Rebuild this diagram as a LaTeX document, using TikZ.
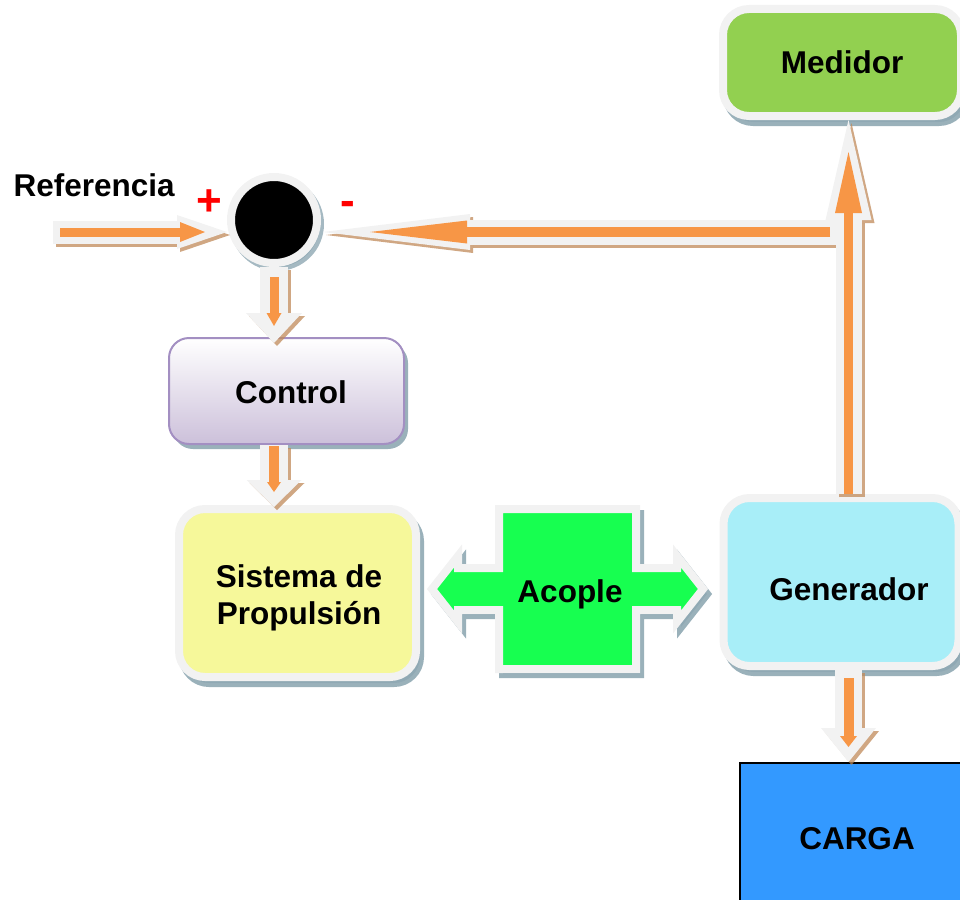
\documentclass[tikz,border=0pt]{standalone}
\usepackage{fontspec}
\setmainfont{Liberation Sans}
\usetikzlibrary{arrows.meta,shadows,calc}
\definecolor{bordc}{HTML}{F2F2F2}
\definecolor{shadbox}{HTML}{8FA8B3}
\definecolor{shadarr}{HTML}{C08A5A}
\definecolor{orangec}{HTML}{F79646}
\definecolor{medc}{HTML}{92D050}
\definecolor{ctrlb}{HTML}{A38FC2}
\definecolor{ctrlf}{HTML}{CCC0DA}
\definecolor{sysc}{HTML}{F6F89A}
\definecolor{acoc}{HTML}{17FF50}
\definecolor{genc}{HTML}{A8EEF8}
\definecolor{cargac}{HTML}{3399FF}
\newcommand\lblfont{\fontsize{31.5}{37}\selectfont\bfseries}
\tikzset{
  every node/.style={font=\lblfont, text=black},
  wbox/.style={rectangle, rounded corners=26pt, draw=bordc, line width=8pt, inner sep=0pt},
  bshadow/.style={drop shadow={shadow xshift=4pt, shadow yshift=-6pt, fill=shadbox, draw=shadbox, line width=8pt, opacity=0.9}},
  fatw/.style n args={3}{draw=bordc, line width=#1, -{Triangle[length=#2, width=#3, line width=0pt]}},
  fato/.style n args={3}{draw=orangec, line width=#1, -{Triangle[length=#2, width=#3, line width=0pt]}},
  fats/.style n args={3}{draw=shadarr, opacity=0.75, line width=#1, -{Triangle[length=#2, width=#3, line width=0pt]}, transform canvas={shift={(3pt,-3pt)}}},
  signlbl/.style={text=red, font=\fontsize{44}{46}\selectfont\bfseries, inner sep=0pt},
}
\begin{document}
\begin{tikzpicture}[x=1pt,y=-1pt]
\useasboundingbox (0,0) rectangle (960,899);
\clip (0,0) rectangle (960,899);

% boxes
\node[wbox, bshadow, fill=medc, minimum width=238pt, minimum height=107pt] (med) at (842,62.5) {Medidor};
\node[rectangle, rounded corners=20pt, draw=ctrlb, line width=2pt, top color=white, bottom color=ctrlf,
      drop shadow={shadow xshift=4pt, shadow yshift=-5pt, fill=shadbox, opacity=0.9},
      minimum width=235pt, minimum height=106pt] (ctrl) at (286.5,391) {};
\node (ctrltxt) at (291,392.5) {Control};
\node[wbox, bshadow, fill=sysc, minimum width=237pt, minimum height=168pt] (sys) at (297.5,593) {};
\node[align=center] (systxt) at (299,598) {Sistema de\\Propulsión};
\node[wbox, bshadow, fill=genc, minimum width=235pt, minimum height=168pt] (gen) at (841,582) {};
\node (gentxt) at (849,589.5) {Generador};
\node[rectangle, draw=black, line width=2pt, fill=cargac, minimum width=234pt, minimum height=150pt] (carga) at (857,838) {};
\node (cargatxt) at (857,839) {CARGA};

% acople
\def\acoplepath{(432,589) -- (458,556) -- (458,568) -- (499,568) -- (499,509) -- (636,509) -- (636,568) -- (677,568) -- (677,556) -- (703,589) -- (677,622) -- (677,610) -- (636,610) -- (636,669) -- (499,669) -- (499,610) -- (458,610) -- (458,622) -- cycle}
\path[fill=shadbox, draw=shadbox, line width=8pt, opacity=0.9, shift={(4,5)}] \acoplepath;
\path[fill=acoc, draw=bordc, line width=8pt, line join=miter] \acoplepath;
\node (acople) at (570,594) {Acople};

% summing junction
\node[circle, minimum size=86pt, inner sep=0pt, fill=black, draw=bordc, line width=8pt,
      drop shadow={shadow xshift=3pt, shadow yshift=-4pt, fill=shadbox, draw=shadbox, line width=8pt, opacity=0.8}] (sum) at (274,220) {};
\node[signlbl] (plus) at (209,203) {+};
\node[signlbl] (minus) at (347.5,208) {-};
\node[anchor=west] (reftxt) at (10,185) {Referencia};

% helper coordinates
\coordinate (refin) at (53,232);
\coordinate (fb) at (848.5,232);
\coordinate (gup) at ($(gen.north)+(7.5,0)$);
\coordinate (gdown) at ($(gen.south)+(7.5,0)$);

% shadows of arrows
\draw[fats={23pt}{50pt}{34pt}] (refin) -- (refin -| sum.west);
\draw[fats={25pt}{147pt}{36pt}, shorten >=2pt] (fb) -- (fb -| sum.east);
\draw[fats={26pt}{100pt}{46pt}] (gup) -- (gup |- med.south);
\draw[fats={28pt}{30pt}{56pt}, shorten >=-6pt] (sum.south) -- (sum.south |- ctrl.north);
\draw[fats={28pt}{27pt}{55pt}, shorten >=-2pt] (sum.south |- ctrl.south) -- (sum.south |- sys.north);
\draw[fats={27pt}{34pt}{55pt}] (gdown) -- (gdown |- carga.north);

% reference arrow
\draw[fatw={23pt}{50pt}{34pt}] (refin) -- (refin -| sum.west);
\draw[fato={9pt}{25pt}{20pt}, shorten <=7pt, shorten >=22pt] (refin) -- (refin -| sum.west);
% feedback arrow
\draw[fatw={25pt}{147pt}{36pt}, shorten >=2pt] (fb) -- (fb -| sum.east);
\draw[fato={10pt}{97pt}{23pt}, shorten <=18.5pt, shorten >=49pt] (fb) -- (fb -| sum.east);
% generator to meter
\draw[fatw={26pt}{100pt}{46pt}] (gup) -- (gup |- med.south);
\draw[fato={9pt}{61pt}{27pt}, shorten >=32pt] (gup) -- (gup |- med.south);
% junction to control
\draw[fatw={28pt}{30pt}{56pt}, shorten >=-6pt] (sum.south) -- (sum.south |- ctrl.north);
\draw[fato={9pt}{13pt}{15pt}, shorten <=10pt, shorten >=11pt] (sum.south) -- (sum.south |- ctrl.north);
% control to propulsion
\draw[fatw={28pt}{27pt}{55pt}, shorten >=-2pt] (sum.south |- ctrl.south) -- (sum.south |- sys.north);
\draw[fato={10pt}{10pt}{14pt}, shorten <=1pt, shorten >=13pt] (sum.south |- ctrl.south) -- (sum.south |- sys.north);
% generator to load
\draw[fatw={27pt}{34pt}{55pt}] (gdown) -- (gdown |- carga.north);
\draw[fato={10pt}{11pt}{17pt}, shorten <=8pt, shorten >=15pt] (gdown) -- (gdown |- carga.north);
\end{tikzpicture}
\end{document}
